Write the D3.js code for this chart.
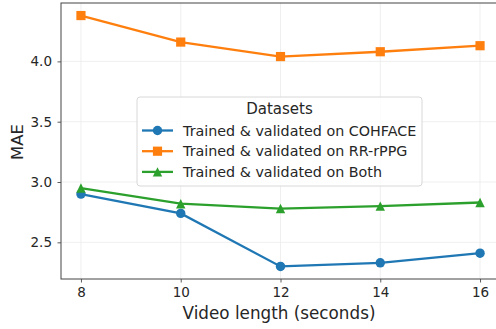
<!DOCTYPE html>
<html><head><meta charset="utf-8">
<script src="https://cdn.jsdelivr.net/npm/d3@7/dist/d3.min.js"></script>
<style>body{margin:0;background:#fff}svg{display:block;font-family:"DejaVu Sans",sans-serif}</style>
</head><body><svg id="c" width="496" height="329"></svg>
<script>
const videoLengths = [8, 10, 12, 14, 16];
const cohface = [2.90, 2.74, 2.30, 2.33, 2.41];
const rrppg = [4.38, 4.16, 4.04, 4.08, 4.13];
const both = [2.95, 2.82, 2.78, 2.80, 2.83];
const seriesNames = ["Trained & validated on COHFACE", "Trained & validated on RR-rPPG", "Trained & validated on Both"];
const seriesColors = ["#1f77b4", "#ff7f0e", "#2ca02c"];
const seriesMarkers = ["circle", "square", "triangle"];
const yTicks = [2.5, 3.0, 3.5, 4.0];

const svg = d3.select("#c");
const L = 61, R = 500, T = 3, B = 279;
const x = d3.scaleLinear().domain([7.6, 16.4]).range([L, R]);
const allV = cohface.concat(rrppg, both);
const mn = d3.min(allV), mx = d3.max(allV), pad = (mx - mn) * 0.05;
const y = d3.scaleLinear().domain([mn - pad, mx + pad]).range([B, T]);

// grid
const g = svg.append("g");
g.selectAll(".gx").data(videoLengths).enter().append("line")
  .attr("x1", d => x(d)).attr("x2", d => x(d)).attr("y1", T).attr("y2", B)
  .attr("stroke", "#ebebeb").attr("stroke-width", 0.8);
g.selectAll(".gy").data(yTicks).enter().append("line")
  .attr("x1", L).attr("x2", R).attr("y1", d => y(d)).attr("y2", d => y(d))
  .attr("stroke", "#ebebeb").attr("stroke-width", 0.8);

// axes
const xa = svg.append("g").attr("transform", `translate(0,${B})`)
  .call(d3.axisBottom(x).tickValues(videoLengths).tickFormat(d3.format("d")).tickSize(3.5).tickSizeOuter(0));
const ya = svg.append("g").attr("transform", `translate(${L},0)`)
  .call(d3.axisLeft(y).tickValues(yTicks).tickFormat(d3.format(".1f")).tickSize(3.5).tickSizeOuter(0));
[xa, ya].forEach(a => {
  a.select(".domain").remove();
  a.selectAll("line").attr("stroke", "#333").attr("stroke-width", 0.8);
  a.selectAll("text").attr("font-size", "13.5px").attr("fill", "#262626").attr("font-family", "DejaVu Sans");
});
xa.selectAll("text").attr("dy", "0.71em").attr("y", 8);
ya.selectAll("text").attr("x", -9);

// spines
svg.append("rect").attr("x", L).attr("y", T).attr("width", R - L).attr("height", B - T)
  .attr("fill", "none").attr("stroke", "#444").attr("stroke-width", 1);

function markerPath(type) {
  if (type === "circle") return d3.symbol().type(d3.symbolCircle).size(70)();
  if (type === "square") { const h = 4.6; return `M${-h},${-h}H${h}V${h}H${-h}Z`; }
  const h = 4.7; return `M0,${-h}L${h},${h}L${-h},${h}Z`;
}
const data = [cohface, rrppg, both];
const line = d3.line().x((d, i) => x(videoLengths[i])).y(d => y(d));
data.forEach((vals, k) => {
  svg.append("path").datum(vals).attr("d", line).attr("fill", "none")
    .attr("stroke", seriesColors[k]).attr("stroke-width", 2.3);
  svg.selectAll(".m" + k).data(vals).enter().append("path")
    .attr("transform", (d, i) => `translate(${x(videoLengths[i])},${y(d)})`)
    .attr("d", markerPath(seriesMarkers[k]))
    .attr("fill", seriesColors[k]);
});

// labels
svg.append("text").attr("x", 279).attr("y", 319).attr("text-anchor", "middle")
  .attr("font-size", "16.8px").attr("fill", "#262626").text("Video length (seconds)");
svg.append("text").attr("transform", "translate(23,142) rotate(-90)").attr("text-anchor", "middle")
  .attr("font-size", "16.5px").attr("fill", "#262626").text("MAE");

// legend
const lg = svg.append("g");
lg.append("rect").attr("x", 137).attr("y", 97).attr("width", 285).attr("height", 89).attr("rx", 3)
  .attr("fill", "#fff").attr("fill-opacity", 0.85).attr("stroke", "#d8d8d8").attr("stroke-width", 1);
lg.append("text").attr("x", 279.5).attr("y", 109).attr("dy", "0.35em").attr("text-anchor", "middle")
  .attr("font-size", "15px").attr("fill", "#262626").text("Datasets");
seriesNames.forEach((n, k) => {
  const cy = 130.5 + k * 20.7;
  lg.append("line").attr("x1", 142).attr("x2", 173).attr("y1", cy).attr("y2", cy)
    .attr("stroke", seriesColors[k]).attr("stroke-width", 2.3);
  lg.append("path").attr("transform", `translate(157.5,${cy})`)
    .attr("d", markerPath(seriesMarkers[k]))
    .attr("fill", seriesColors[k]);
  lg.append("text").attr("x", 183).attr("y", cy).attr("dy", "0.35em")
    .attr("font-size", "14.3px").attr("fill", "#262626").text(n);
});
</script></body></html>
